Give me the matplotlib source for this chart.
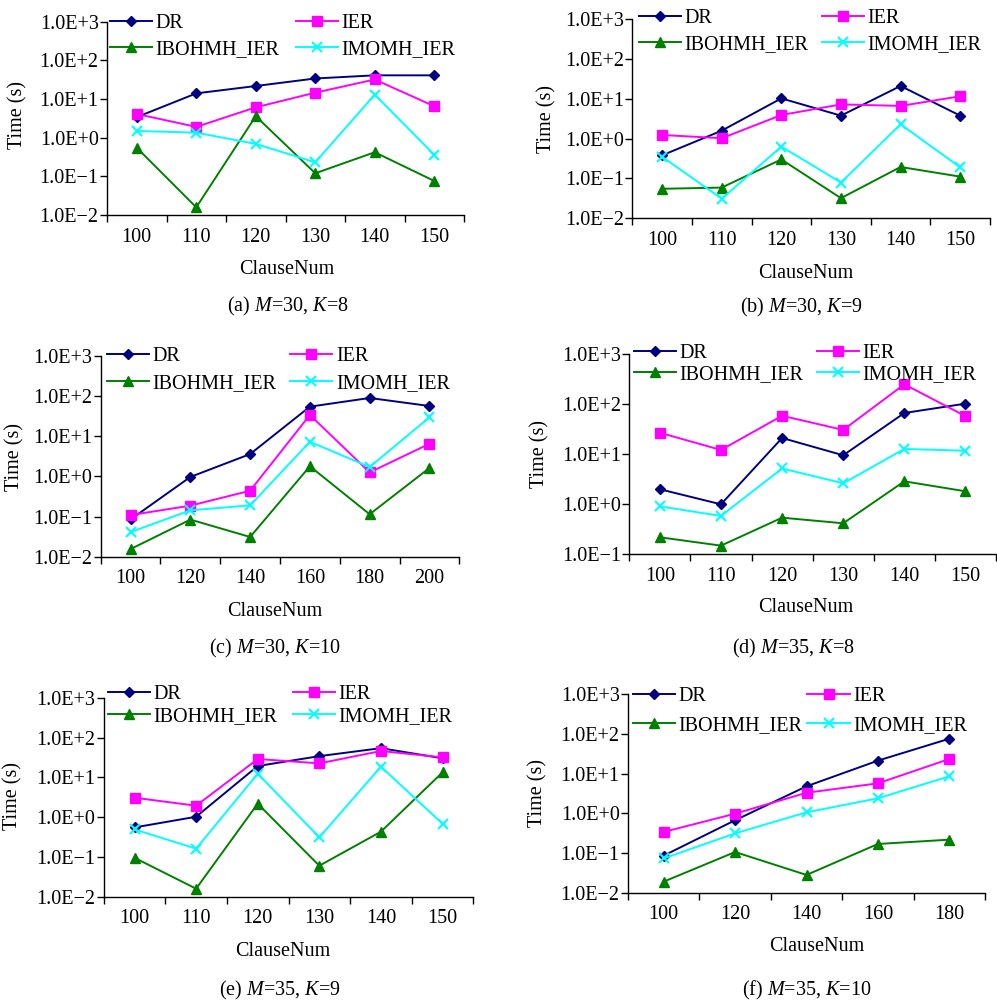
import matplotlib
matplotlib.use("Agg")
import matplotlib.pyplot as plt
from matplotlib.ticker import FixedLocator, FuncFormatter, NullLocator

plt.rcParams['font.family'] = ['Liberation Serif', 'DejaVu Serif']
plt.rcParams['mathtext.fontset'] = 'custom'
plt.rcParams['mathtext.rm'] = 'Liberation Serif'
plt.rcParams['mathtext.it'] = 'Liberation Serif:italic'

FS = 14.5

series_names = ["DR", "IER", "IBOHMH_IER", "IMOMH_IER"]
series_colors = ["#000080", "#FF00FF", "#008000", "#00FFFF"]
series_markers = ["D", "s", "^", "x"]
series_msizes = [5.5, 6.5, 7.5, 7.0]

# (a) M=30, K=8
cats_a = [100, 110, 120, 130, 140, 150]
dr_a = [3.4, 14, 21.7, 34, 41, 41]
ier_a = [4.1, 1.9, 6.1, 14.6, 32, 6.5]
ibo_a = [0.55, 0.0158, 3.6, 0.12, 0.42, 0.076]
imo_a = [1.49, 1.35, 0.69, 0.23, 13, 0.36]

# (b) M=30, K=9
cats_b = [100, 110, 120, 130, 140, 150]
dr_b = [0.38, 1.58, 10.2, 3.76, 20.9, 3.76]
ier_b = [1.23, 1.02, 3.9, 7.2, 6.6, 11.5]
ibo_b = [0.055, 0.059, 0.30, 0.032, 0.194, 0.111]
imo_b = [0.35, 0.031, 0.63, 0.079, 2.28, 0.19]

# (c) M=30, K=10
cats_c = [100, 120, 140, 160, 180, 200]
dr_c = [0.085, 0.97, 3.6, 54.7, 90, 56.8]
ier_c = [0.109, 0.187, 0.44, 34, 1.26, 6.5]
ibo_c = [0.0155, 0.084, 0.031, 1.79, 0.114, 1.62]
imo_c = [0.041, 0.143, 0.19, 7.3, 1.71, 29.7]

# (d) M=35, K=8
cats_d = [100, 110, 120, 130, 140, 150]
dr_d = [2.0, 1.0, 21.2, 9.55, 67, 103]
ier_d = [27, 12.2, 59, 30.7, 251, 58]
ibo_d = [0.219, 0.149, 0.54, 0.417, 2.88, 1.82]
imo_d = [0.91, 0.585, 5.2, 2.63, 12.8, 11.8]

# (e) M=35, K=9
cats_e = [100, 110, 120, 130, 140, 150]
dr_e = [0.55, 1.02, 19.2, 34, 54, 30]
ier_e = [3.07, 1.93, 28.8, 22.4, 45.7, 31.7]
ibo_e = [0.095, 0.0159, 2.17, 0.06, 0.43, 13.3]
imo_e = [0.49, 0.161, 12.3, 0.31, 18.5, 0.68]

# (f) M=35, K=10
cats_f = [100, 120, 140, 160, 180]
dr_f = [0.086, 0.67, 4.8, 21.3, 76]
ier_f = [0.34, 0.98, 3.3, 5.7, 23.4]
ibo_f = [0.019, 0.106, 0.028, 0.169, 0.217]
imo_f = [0.073, 0.313, 1.06, 2.39, 8.57]

captions = ["(a) $M$=30, $K$=8", "(b) $M$=30, $K$=9", "(c) $M$=30, $K$=10",
            "(d) $M$=35, $K$=8", "(e) $M$=35, $K$=9", "(f) $M$=35, $K$=10"]
ylims = [(1e-2, 1e3), (1e-2, 1e3), (1e-2, 1e3), (1e-1, 1e3), (1e-2, 1e3), (1e-2, 1e3)]

panels = [
    (cats_a, [dr_a, ier_a, ibo_a, imo_a]),
    (cats_b, [dr_b, ier_b, ibo_b, imo_b]),
    (cats_c, [dr_c, ier_c, ibo_c, imo_c]),
    (cats_d, [dr_d, ier_d, ibo_d, imo_d]),
    (cats_e, [dr_e, ier_e, ibo_e, imo_e]),
    (cats_f, [dr_f, ier_f, ibo_f, imo_f]),
]

W, H = 997, 1005
ax_px = [(107, 21.7, 464, 215), (632.3, 19, 990, 218.3),
         (100.7, 356, 459.3, 556.7), (629.3, 354.3, 996, 554.3),
         (103.7, 697.7, 473.3, 896.7), (628, 694.3, 985, 892.7)]
ylab_px = [(18.3, 115), (546.7, 119), (15, 456.7), (540, 454), (13.3, 795.8), (538, 792.5)]
xlab_px = [(287, 270), (806, 273), (275, 611), (806, 608), (282.7, 951), (816.7, 946)]
cap_px = [(288, 306), (801.7, 307), (275, 648), (793, 648), (280, 990), (807, 990)]
# legend: first line start x, first row y, label spacing, column spacing
leg_px = [(110, 21.7, 0.35, 0.8), (639, 16.7, 0.35, 0.65), (106.7, 355, 0.39, 0.68),
          (634, 352, 0.09, 0.65), (107.7, 693.3, 0.14, 0.75), (632.7, 695, 0.47, 0.25)]

fig = plt.figure(figsize=(W / 100, H / 100), dpi=100)


def efmt(v, pos):
    import math
    e = int(round(math.log10(v)))
    s = "+" if e >= 0 else "\u2212"
    return "1.0E%s%d" % (s, abs(e))


for i, (cats, data) in enumerate(panels):
    l, t, r, b = ax_px[i]
    ax = fig.add_axes([l / W, 1 - b / H, (r - l) / W, (b - t) / H])
    n = len(cats)
    xs = list(range(n))
    handles = []
    for name, vals, c, m, ms in zip(series_names, data, series_colors, series_markers, series_msizes):
        kw = dict(color=c, marker=m, markersize=ms, linewidth=1.4, label=name, clip_on=False)
        if m == "x":
            kw["markeredgewidth"] = 1.5
        h, = ax.plot(xs, vals, **kw)
        handles.append(h)
    ax.set_yscale("log")
    ax.set_ylim(*ylims[i])
    ax.set_xlim(-0.5, n - 0.5)
    ax.yaxis.set_minor_locator(NullLocator())
    ax.yaxis.set_major_formatter(FuncFormatter(efmt))
    ax.xaxis.set_major_locator(FixedLocator([k - 0.5 for k in range(n + 1)]))
    ax.xaxis.set_major_formatter(FuncFormatter(lambda v, p: ""))
    ax.xaxis.set_minor_locator(FixedLocator(xs))
    ax.set_xticklabels([str(c) for c in cats], minor=True)
    ax.tick_params(axis="x", which="minor", length=0, pad=9, labelsize=FS)
    ax.tick_params(axis="x", which="major", length=5, direction="out", width=1)
    ax.tick_params(axis="y", which="major", length=5, direction="out", width=1, labelsize=FS, pad=1)
    for s in ("top", "right"):
        ax.spines[s].set_visible(False)
    for s in ("left", "bottom"):
        ax.spines[s].set_linewidth(1)
    x0, y0, lsp, csp = leg_px[i]
    order = [0, 2, 1, 3]
    ax.legend([handles[k] for k in order], [series_names[k] for k in order],
              ncol=2, frameon=False, fontsize=FS, loc="upper left",
              bbox_to_anchor=(x0 / W, 1 - (y0 - 8) / H), bbox_transform=fig.transFigure,
              borderaxespad=0, borderpad=0, handlelength=2.1, handletextpad=0.17,
              labelspacing=lsp, columnspacing=csp)
    fig.text(ylab_px[i][0] / W, 1 - ylab_px[i][1] / H, "Time (s)", rotation=90,
             ha="center", va="center", fontsize=FS)
    fig.text(xlab_px[i][0] / W, 1 - xlab_px[i][1] / H, "ClauseNum",
             ha="center", va="center", fontsize=FS)
    fig.text(cap_px[i][0] / W, 1 - cap_px[i][1] / H, captions[i],
             ha="center", va="center", fontsize=FS)

fig.savefig("out.png", dpi=100)
